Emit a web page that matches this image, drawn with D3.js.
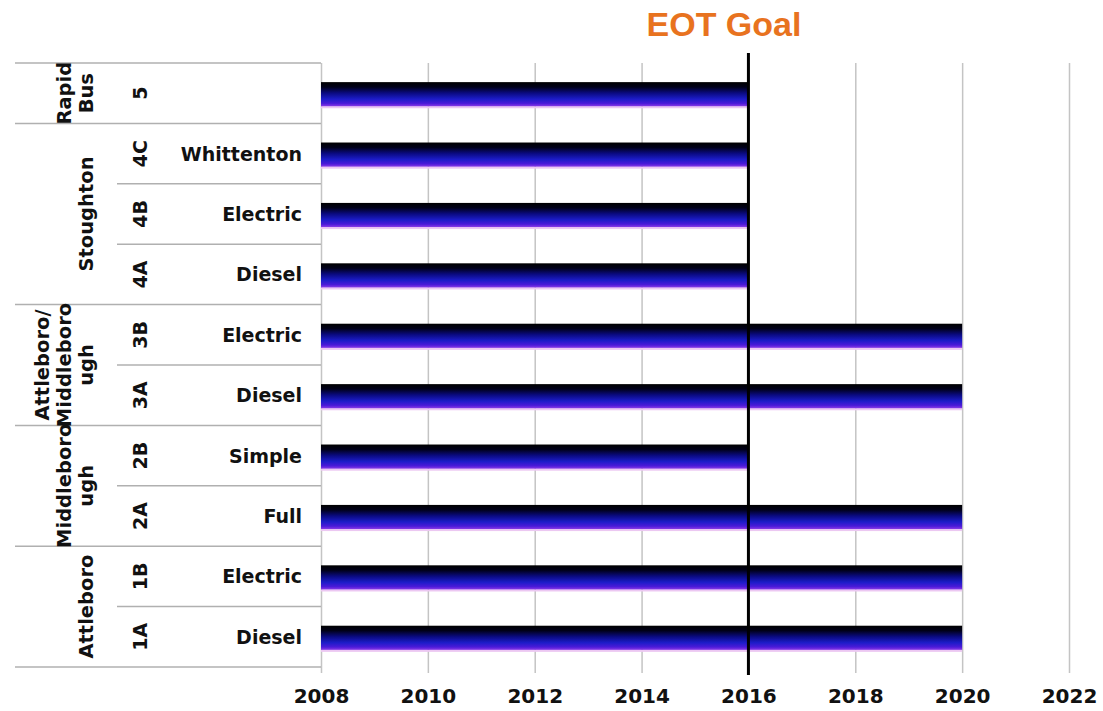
<!DOCTYPE html>
<html>
<head>
<meta charset="utf-8">
<script src="https://cdn.jsdelivr.net/npm/d3@7"></script>
<style>
  body { margin: 0; background: #fff; }
  svg text { font-family: "DejaVu Sans", Verdana, sans-serif; font-weight: bold; }
</style>
</head>
<body>
<svg id="chart" width="1103" height="711"></svg>
<script>
// rows top to bottom
const codes = ['5', '4C', '4B', '4A', '3B', '3A', '2B', '2A', '1B', '1A'];
const descriptions = ['', 'Whittenton', 'Electric', 'Diesel', 'Electric', 'Diesel', 'Simple', 'Full', 'Electric', 'Diesel'];
const startYears = [2008, 2008, 2008, 2008, 2008, 2008, 2008, 2008, 2008, 2008];
const endYears = [2016, 2016, 2016, 2016, 2020, 2020, 2016, 2020, 2020, 2020];
const groups = [
  { lines: ['Rapid', 'Bus'], first: '5', last: '5' },
  { lines: ['Stoughton'], first: '4C', last: '4A' },
  { lines: ['Attleboro/', 'Middleboro', 'ugh'], first: '3B', last: '3A' },
  { lines: ['Middleboro', 'ugh'], first: '2B', last: '2A' },
  { lines: ['Attleboro'], first: '1B', last: '1A' }
];
const yearTicks = [2008, 2010, 2012, 2014, 2016, 2018, 2020, 2022];
const goalYear = 2016;
const goalLabel = 'EOT Goal';

function drawChart() {
  const svg = d3.select('#chart');
  const plotLeft = 321, plotRight = 1069;
  const plotTop = 63, plotBottom = 667;
  const tableLeft = 15;

  const x = d3.scaleLinear().domain([2008, 2022]).range([plotLeft, plotRight]);
  const y = d3.scaleBand().domain(codes).range([plotTop, plotBottom]);
  const bw = y.bandwidth();

  const defs = svg.append('defs');
  const grad = defs.append('linearGradient')
    .attr('id', 'barGrad').attr('x1', 0).attr('x2', 0).attr('y1', 0).attr('y2', 1);
  [[0, '#000000'], [0.2, '#000018'], [0.45, '#0a0a80'], [0.7, '#1c1cc8'], [0.88, '#4a1ad8'], [1, '#8a3ae6']]
    .forEach(([o, c]) => grad.append('stop').attr('offset', o).attr('stop-color', c));

  // vertical gridlines
  const grid = svg.append('g')
    .attr('transform', `translate(0,${plotBottom + 6})`)
    .call(d3.axisBottom(x).tickValues(yearTicks).tickSize(-(plotBottom + 6 - plotTop)).tickFormat(''));
  grid.select('.domain').remove();
  grid.selectAll('line').attr('stroke', '#c4c4c4').attr('stroke-width', 1.5);

  // table lines
  const groupStarts = new Set(groups.map(g => g.first));
  const table = svg.append('g');
  codes.forEach(c => {
    table.append('line')
      .attr('x1', groupStarts.has(c) ? tableLeft : 117).attr('x2', plotLeft)
      .attr('y1', y(c)).attr('y2', y(c))
      .attr('stroke', '#b0b0b0').attr('stroke-width', 1.5);
  });
  table.append('line')
    .attr('x1', tableLeft).attr('x2', plotLeft)
    .attr('y1', plotBottom).attr('y2', plotBottom)
    .attr('stroke', '#b0b0b0').attr('stroke-width', 1.5);

  // bars
  const rows = codes.map((c, i) => ({ code: c, desc: descriptions[i], start: startYears[i], end: endYears[i] }));
  const barH = bw * 0.4;
  const bars = svg.append('g');
  bars.selectAll('rect.under').data(rows).join('rect')
    .attr('class', 'under')
    .attr('x', d => x(d.start)).attr('width', d => x(d.end) - x(d.start))
    .attr('y', d => y(d.code) + (bw - barH) / 2 + 1 + barH).attr('height', 2)
    .attr('fill', '#ecc8f2');
  bars.selectAll('rect.bar').data(rows).join('rect')
    .attr('class', 'bar')
    .attr('x', d => x(d.start)).attr('width', d => x(d.end) - x(d.start))
    .attr('y', d => y(d.code) + (bw - barH) / 2 + 1).attr('height', barH)
    .attr('fill', 'url(#barGrad)');

  // goal line
  svg.append('line')
    .attr('x1', x(goalYear)).attr('x2', x(goalYear))
    .attr('y1', 53).attr('y2', plotBottom + 8)
    .attr('stroke', '#000').attr('stroke-width', 3);
  svg.append('text')
    .attr('x', 724).attr('y', 36)
    .attr('text-anchor', 'middle')
    .style('font-family', '"Liberation Sans", Arial, sans-serif')
    .style('font-size', '34px')
    .attr('fill', '#e8731f')
    .text(goalLabel);

  // row labels
  const labels = svg.append('g').attr('fill', '#111');
  labels.selectAll('text.desc').data(rows).join('text')
    .attr('class', 'desc')
    .attr('x', 302).attr('y', d => y(d.code) + bw / 2 + 7)
    .attr('text-anchor', 'end')
    .style('font-size', '19px')
    .text(d => d.desc);
  labels.selectAll('text.code').data(rows).join('text')
    .attr('class', 'code')
    .attr('transform', d => `translate(147,${y(d.code) + bw / 2}) rotate(-90)`)
    .attr('text-anchor', 'middle')
    .style('font-size', '19px')
    .text(d => d.code);

  // group labels
  groups.forEach(g => {
    const cy = (y(g.first) + y(g.last) + bw) / 2;
    const n = g.lines.length;
    g.lines.forEach((line, i) => {
      labels.append('text')
        .attr('transform', `translate(${93 - (n - 1 - i) * 22},${cy}) rotate(-90)`)
        .attr('text-anchor', 'middle')
        .style('font-size', '19.5px')
        .text(line);
    });
  });

  // year axis
  const axis = svg.append('g')
    .attr('transform', `translate(0,${plotBottom})`)
    .call(d3.axisBottom(x).tickValues(yearTicks).tickSize(0).tickPadding(22).tickFormat(d3.format('d')));
  axis.select('.domain').remove();
  axis.selectAll('text')
    .style('font-family', '"DejaVu Sans", Verdana, sans-serif')
    .style('font-weight', 'bold')
    .style('font-size', '20px')
    .attr('fill', '#111');
}

window.addEventListener('load', drawChart);
</script>
</body>
</html>
